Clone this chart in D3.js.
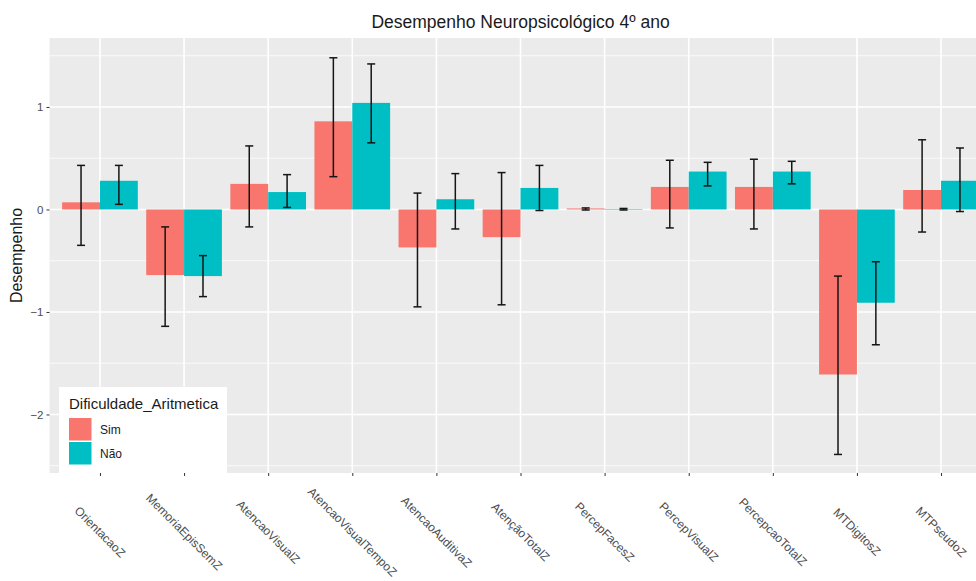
<!DOCTYPE html>
<html>
<head>
<meta charset="utf-8">
<script src="https://cdn.jsdelivr.net/npm/d3@7"></script>
<style>
  body { margin: 0; background: #fff; }
  text { font-family: "Liberation Sans", Arial, sans-serif; }
</style>
</head>
<body>
<svg id="chart" width="976" height="581"></svg>
<script>
const categories = ["OrientacaoZ", "MemoriaEpisSemZ", "AtencaoVisualZ", "AtencaoVisualTempoZ",
  "AtencaoAuditivaZ", "AtençãoTotalZ", "PercepFacesZ", "PercepVisualZ", "PercepcaoTotalZ",
  "MTDigitosZ", "MTPseudoZ"]
const groups = ["Sim", "Não"]
// means
const simMean = [0.07, -0.64, 0.25, 0.86, -0.37, -0.27, 0.01, 0.22, 0.22, -1.61, 0.19]
const naoMean = [0.28, -0.65, 0.17, 1.04, 0.10, 0.21, 0.005, 0.37, 0.37, -0.91, 0.28]
// error bar limits
const simLow  = [-0.35, -1.14, -0.17, 0.32, -0.95, -0.93, -0.005, -0.18, -0.19, -2.39, -0.22]
const simHigh = [0.43, -0.17, 0.62, 1.48, 0.16, 0.36, 0.015, 0.48, 0.49, -0.65, 0.68]
const naoLow  = [0.05, -0.85, 0.02, 0.65, -0.19, -0.01, -0.005, 0.23, 0.25, -1.32, -0.02]
const naoHigh = [0.43, -0.45, 0.34, 1.42, 0.35, 0.43, 0.01, 0.46, 0.47, -0.51, 0.60]
const yTicks = [-2, -1, 0, 1]
const yMinor = [-2.5, -1.5, -0.5, 0.5, 1.5]
const colors = {"Sim": "#F8766D", "Não": "#00BFC4"}

const rows = []
categories.forEach((c, i) => {
    rows.push({cat: c, grp: "Sim", mean: simMean[i], lo: simLow[i], hi: simHigh[i]})
    rows.push({cat: c, grp: "Não", mean: naoMean[i], lo: naoLow[i], hi: naoHigh[i]})
})

const plot = {left: 49.5, right: 991.5, top: 38, bottom: 473}
const svg = d3.select("#chart")

// discrete axis with ggplot-like 0.6 expansion
const step = (plot.right - plot.left) / (categories.length - 1 + 1.2)
const x = d3.scalePoint()
    .domain(categories)
    .range([plot.left + 0.6 * step, plot.right - 0.6 * step])
const xGroup = d3.scaleBand()
    .domain(groups)
    .range([-0.45 * step, 0.45 * step])
    .padding(0)

const y = d3.scaleLinear()
    .domain([-2.571, 1.673])
    .range([plot.bottom, plot.top])

svg.append("rect")
    .attr("x", plot.left).attr("y", plot.top)
    .attr("width", plot.right - plot.left).attr("height", plot.bottom - plot.top)
    .attr("fill", "#EBEBEB")

const grid = svg.append("g")
grid.selectAll(".minor").data(yMinor).join("line")
    .attr("x1", plot.left).attr("x2", plot.right)
    .attr("y1", d => y(d)).attr("y2", d => y(d))
    .attr("stroke", "#fff").attr("stroke-width", 0.8)
grid.selectAll(".major").data(yTicks).join("line")
    .attr("x1", plot.left).attr("x2", plot.right)
    .attr("y1", d => y(d)).attr("y2", d => y(d))
    .attr("stroke", "#fff").attr("stroke-width", 1.6)
grid.selectAll(".vmajor").data(categories).join("line")
    .attr("x1", d => x(d)).attr("x2", d => x(d))
    .attr("y1", plot.top).attr("y2", plot.bottom)
    .attr("stroke", "#fff").attr("stroke-width", 1.6)

// bars
svg.append("g").selectAll("rect").data(rows).join("rect")
    .attr("x", d => x(d.cat) + xGroup(d.grp))
    .attr("width", xGroup.bandwidth())
    .attr("y", d => y(Math.max(0, d.mean)))
    .attr("height", d => Math.abs(y(d.mean) - y(0)))
    .attr("fill", d => colors[d.grp])

// error bars
const capHalf = 4
const err = svg.append("g").attr("stroke", "#151515").attr("stroke-width", 1.5)
rows.forEach(d => {
    const cx = x(d.cat) + xGroup(d.grp) + xGroup.bandwidth() / 2
    const g = err.append("g")
    g.append("line").attr("x1", cx).attr("x2", cx).attr("y1", y(d.lo)).attr("y2", y(d.hi))
    g.append("line").attr("x1", cx - capHalf).attr("x2", cx + capHalf).attr("y1", y(d.lo)).attr("y2", y(d.lo))
    g.append("line").attr("x1", cx - capHalf).attr("x2", cx + capHalf).attr("y1", y(d.hi)).attr("y2", y(d.hi))
})

// y axis
const yAxis = d3.axisLeft(y).tickValues(yTicks).tickSize(3).tickPadding(3).tickFormat(d3.format("d"))
const yG = svg.append("g").attr("transform", "translate(" + plot.left + ",0)").call(yAxis)
yG.select(".domain").remove()
yG.selectAll(".tick line").attr("stroke", "#333")
yG.selectAll(".tick text").attr("fill", "#4d4d4d").style("font-size", "11.5px")

// x axis
const xAxis = d3.axisBottom(x).tickSize(3).tickFormat("")
const xG = svg.append("g").attr("transform", "translate(0," + plot.bottom + ")").call(xAxis)
xG.select(".domain").remove()
xG.selectAll(".tick line").attr("stroke", "#333")

svg.append("g").selectAll("text").data(categories).join("text")
    .attr("transform", d => "translate(" + x(d) + ",532) rotate(45)")
    .attr("text-anchor", "middle")
    .attr("dominant-baseline", "central")
    .attr("fill", "#4d4d4d")
    .style("font-size", "12px")
    .text(d => d)

// titles
svg.append("text")
    .attr("x", (plot.left + plot.right) / 2).attr("y", 27.5)
    .attr("text-anchor", "middle")
    .attr("fill", "#1a1a1a")
    .style("font-size", "17.5px")
    .text("Desempenho Neuropsicológico 4º ano")

svg.append("text")
    .attr("transform", "translate(22," + (plot.top + plot.bottom) / 2 + ") rotate(-90)")
    .attr("text-anchor", "middle")
    .attr("fill", "#1a1a1a")
    .style("font-size", "16px")
    .text("Desempenho")

// legend
const legend = svg.append("g").attr("transform", "translate(59,387)")
legend.append("rect").attr("width", 168).attr("height", 86).attr("fill", "#fff")
legend.append("text").attr("x", 10).attr("y", 22)
    .attr("fill", "#1a1a1a").style("font-size", "15px")
    .text("Dificuldade_Aritmetica")
const keys = legend.selectAll(".key").data(groups).join("g")
    .attr("transform", (d, i) => "translate(10," + (31 + i * 24) + ")")
keys.append("rect").attr("width", 22.5).attr("height", 22.5).attr("fill", d => colors[d])
keys.append("text").attr("x", 31).attr("y", 11.5)
    .attr("dominant-baseline", "central")
    .attr("fill", "#1a1a1a").style("font-size", "12px")
    .text(d => d)
</script>
</body>
</html>
